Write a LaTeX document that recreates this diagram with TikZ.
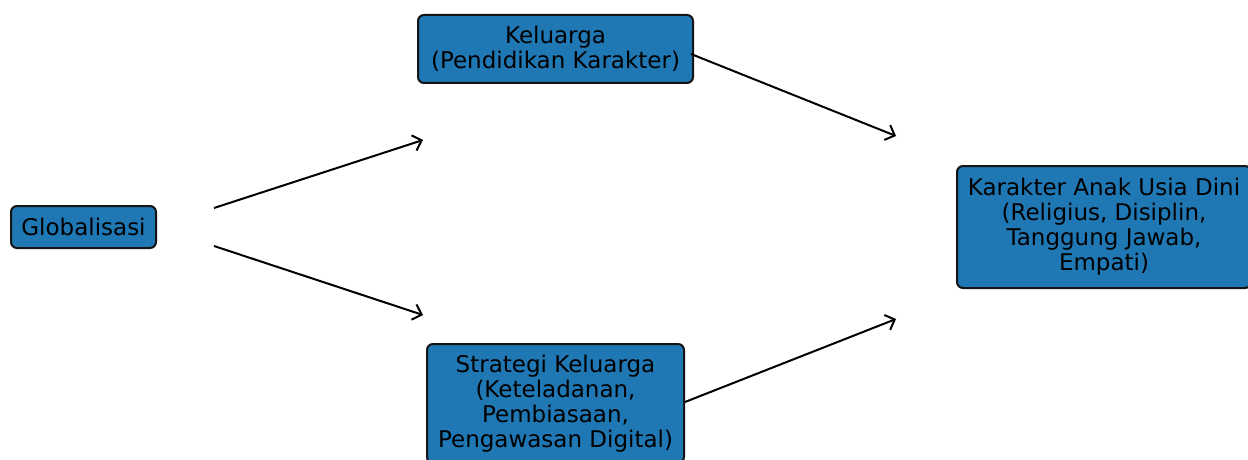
\documentclass[tikz,border=0pt]{standalone}
\usepackage{fontspec}
\setmainfont{DejaVu Sans}
\usetikzlibrary{arrows.meta}
\definecolor{boxblue}{HTML}{1F77B4}
\definecolor{edgedark}{HTML}{151515}
\begin{document}
\begin{tikzpicture}[x=1pt,y=1pt,
  box/.style={draw=edgedark, line width=2pt, fill=boxblue, rounded corners=6pt,
    align=center, inner sep=0pt, text=black,
    font=\fontsize{23}{25}\selectfont},
  conn/.style={draw=black, line width=2pt, -{Straight Barb[length=8pt,width=16pt,line width=2pt]}}]
\path[use as bounding box, clip] (0,0) rectangle (1248,-460);
\fill[white] (0,0) rectangle (1248,-460);
\node[box, minimum width=145pt, minimum height=42pt] (glob) at (83.5,-227) {Globalisasi};
\node[box, minimum width=275pt, minimum height=68pt] (kel) at (555.5,-49) {Keluarga\\(Pendidikan Karakter)};
\node[box, minimum width=257pt, minimum height=119pt] (str) at (555.5,-403.5) {Strategi Keluarga\\(Keteladanan,\\Pembiasaan,\\Pengawasan Digital)};
\node[box, minimum width=294pt, minimum height=122pt] (kar) at (1104,-227) {Karakter Anak Usia Dini\\(Religius, Disiplin,\\Tanggung Jawab,\\Empati)};
\coordinate (g1) at (214,-208);
\coordinate (g1e) at (423,-140);
\coordinate (g2) at (214,-246);
\coordinate (g2e) at (423,-315);
\coordinate (k1) at (691,-54);
\coordinate (k1e) at (896,-136);
\coordinate (s1) at (685,-402);
\coordinate (s1e) at (896,-319);
\draw[conn] (g1) -- (g1e);
\draw[conn] (g2) -- (g2e);
\draw[conn] (k1) -- (k1e);
\draw[conn] (s1) -- (s1e);
\end{tikzpicture}
\end{document}
